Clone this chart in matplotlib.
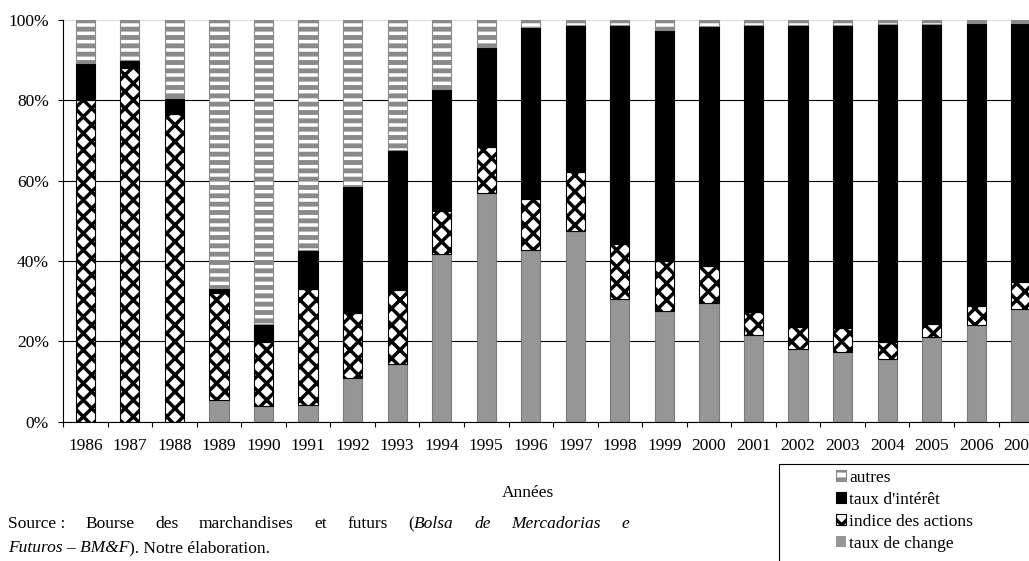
import matplotlib
matplotlib.use("Agg")
import matplotlib.pyplot as plt
from matplotlib.patches import Rectangle
import numpy as np

# parts de marché (%) par année
years = [str(y) for y in range(1986, 2008)]
taux_change = [0.0, 0.0, 0.0, 5.4, 3.9, 4.1, 11.0, 14.4, 41.7, 57.0, 42.7,
               47.5, 30.6, 27.6, 29.5, 21.5, 18.2, 17.3, 15.6, 21.2, 24.1, 28.1]
indice_actions = [80.1, 88.0, 76.5, 26.6, 16.0, 29.0, 16.0, 18.5, 10.8, 11.5, 12.7,
                  14.7, 13.6, 12.5, 9.3, 5.7, 5.4, 6.0, 4.2, 3.0, 4.7, 6.7]
taux_interet = [9.1, 2.0, 4.2, 1.2, 4.4, 9.6, 31.7, 34.7, 30.2, 24.9, 42.9,
                36.5, 54.5, 57.4, 59.7, 71.6, 75.2, 75.5, 79.1, 74.7, 70.4, 64.4]
autres = [10.8, 10.0, 19.3, 66.8, 75.7, 57.3, 41.3, 32.4, 17.3, 6.6, 1.7,
          1.3, 1.3, 2.5, 1.5, 1.2, 1.2, 1.2, 1.1, 1.1, 0.8, 0.8]
y_ticks = [0, 20, 40, 60, 80, 100]

plt.rcParams["font.family"] = ["Liberation Serif", "DejaVu Serif"]
plt.rcParams["font.size"] = 12.5
plt.rcParams["hatch.linewidth"] = 2.5

W, H = 1029, 561
fig = plt.figure(figsize=(W / 100, H / 100), dpi=100)
step = 44.55
ax = fig.add_axes([63 / W, (H - 421.7) / H, 22 * step / W, 401.7 / H])


def set_hatch_lw(bars, lw):
    for p in bars:
        if hasattr(p, "set_hatch_linewidth"):
            p.set_hatch_linewidth(lw)


x = np.arange(len(years))
bw = 0.43
bottom = np.zeros(len(years))

b_change = ax.bar(x, taux_change, bw, bottom=bottom, facecolor="#969696",
                  edgecolor=["none" if v == 0 else "#7a7a7a" for v in taux_change],
                  lw=0.8, label="taux de change")
bottom += taux_change
b_ind = ax.bar(x, indice_actions, bw, bottom=bottom, facecolor="white", edgecolor="black",
               hatch="xx", lw=0.8, label="indice des actions")
set_hatch_lw(b_ind, 2.5)
bottom += indice_actions
b_int = ax.bar(x, taux_interet, bw, bottom=bottom, facecolor="black", edgecolor="black",
               lw=0.8, label="taux d'intérêt")
bottom += taux_interet
b_aut = ax.bar(x, autres, bw, bottom=bottom, facecolor="white", edgecolor="#8a8a8a",
               hatch="--", lw=0.8, label="autres")
set_hatch_lw(b_aut, 3.5)

ax.set_xlim(-0.5, len(years) - 0.5)
ax.set_ylim(0, 100)
ax.set_xticks(np.arange(-0.5, len(years), 1))
ax.set_xticklabels([])
ax.set_xticks(x, minor=True)
ax.set_xticklabels(years, minor=True)
ax.tick_params(axis="x", which="major", length=3.6, width=0.8, direction="out")
ax.tick_params(axis="x", which="minor", length=0, pad=12)
ax.set_yticks(y_ticks)
ax.set_yticklabels([f"{v}%" for v in y_ticks])
ax.tick_params(axis="y", length=3.6, width=0.8, pad=6.5)

ax.set_axisbelow(True)
ax.yaxis.grid(True, color="black", lw=0.8)
ax.yaxis.get_gridlines()[-1].set_color("#dddddd")
for s in ("top", "right"):
    ax.spines[s].set_visible(False)
for s in ("left", "bottom"):
    ax.spines[s].set_linewidth(0.8)

fig.text(528 / W, (H - 493) / H, "Années", ha="center", va="center")

# légende + cadre qui déborde de l'image
fig.add_artist(Rectangle((779 / W, -0.1), 0.4, (H - 464) / H + 0.1,
                         transform=fig.transFigure, facecolor="none",
                         edgecolor="black", lw=0.8, clip_on=False))
handles = [b_aut, b_int, b_ind, b_change]
fig.legend(handles, [h.get_label() for h in handles], loc="upper left",
           bbox_to_anchor=(836 / W, (H - 470) / H), frameon=False,
           borderpad=0, borderaxespad=0, handlelength=0.6, handleheight=0.6,
           handletextpad=0.15, labelspacing=0.34)

# source, ligne 1 justifiée
renderer = fig.canvas.get_renderer()
line1 = [[("Source :", "normal")], [("Bourse", "normal")], [("des", "normal")],
         [("marchandises", "normal")], [("et", "normal")], [("futurs", "normal")],
         [("(", "normal"), ("Bolsa", "italic")], [("de", "italic")],
         [("Mercadorias", "italic")], [("e", "italic")]]
left_px, right_px = 8, 629
base1 = (H - 528) / H
pieces = []
widths = []
for word in line1:
    ws = []
    for s, st in word:
        t = fig.text(0, base1, s, style=st, va="baseline")
        ws.append(t.get_window_extent(renderer).width)
        pieces.append(t)
    widths.append(ws)
total = sum(sum(ws) for ws in widths)
gap = (right_px - left_px - total) / (len(line1) - 1)
xpos = left_px
k = 0
for ws in widths:
    for w in ws:
        pieces[k].set_x(xpos / W)
        xpos += w
        k += 1
    xpos += gap

base2 = (H - 552) / H
t = fig.text(left_px / W, base2, "Futuros – BM&F", style="italic", va="baseline")
w = t.get_window_extent(renderer).width
fig.text((left_px + w) / W, base2, "). Notre élaboration.", va="baseline")

fig.savefig("out.png", dpi=100)
